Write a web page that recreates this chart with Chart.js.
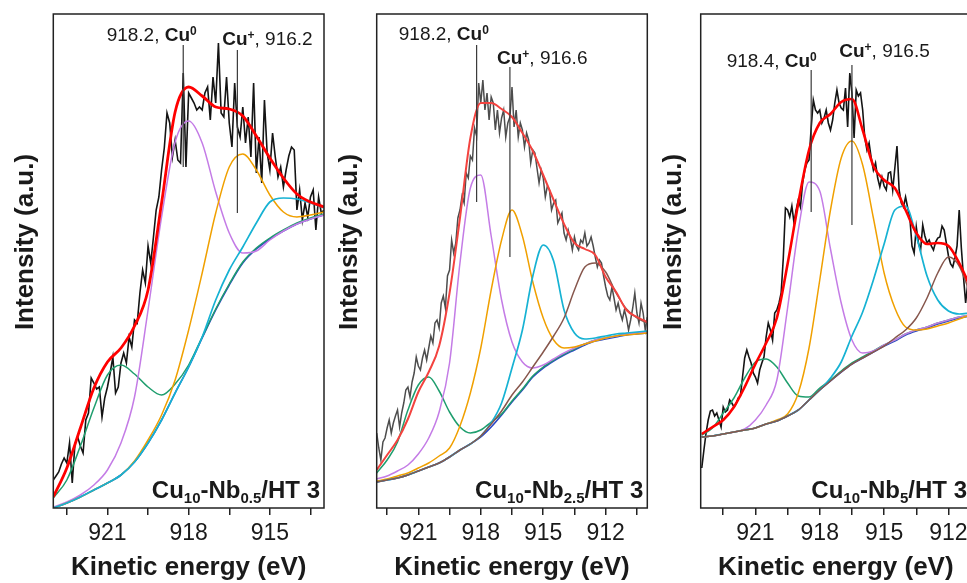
<!DOCTYPE html>
<html>
<head>
<meta charset="utf-8">
<script src="https://cdn.jsdelivr.net/npm/chart.js@4.4.1/dist/chart.umd.min.js"></script>
<style>
    html, body { margin: 0; padding: 0; background: #ffffff; overflow: hidden; }
    #wrap { position: relative; width: 967px; height: 583px; overflow: hidden; }
    #wrap canvas { position: absolute; top: 0; }
</style>
</head>
<body>
<div id="wrap">
    <canvas id="c1" width="335" height="583" style="left:0px"></canvas>
    <canvas id="c2" width="330" height="583" style="left:330px"></canvas>
    <canvas id="c3" width="320" height="583" style="left:660px"></canvas>
</div>
<script>
// shared x ticks (eV); only the multiples of 3 get a label
const tickValues = [910.5, 912, 913.5, 915, 916.5, 918, 919.5, 921, 922.5];
const tickLabels = [912, 915, 918, 921];
const rawStep = 0.1;

// ---- panel 1: Cu10-Nb0.5/HT 3 ----
const p1Energy = [923, 922.5, 922, 921.5, 921, 920.5, 920, 919.5, 919, 918.5, 918, 917.5, 917, 916.5, 916, 915.5, 915, 914.5, 914, 913.5, 913];
const p1Background = [0, 5, 11, 18, 25, 33, 46, 65, 88, 115, 141, 170, 198, 223, 245, 259, 269, 277, 284, 289, 293];
const p1Green = [10, 28, 62, 100, 133, 143, 134, 121, 113, 124, 143, 171, 199, 224, 246, 260, 270, 278, 285, 290, 294];
const p1Purple = [1, 6, 13, 23, 38, 65, 111, 198, 291, 366, 387, 365, 316, 275, 255, 257, 268, 277, 284, 289, 293];
const p1Orange = [0, 5, 11, 18, 25, 33, 47, 68, 93, 128, 178, 235, 295, 341, 354, 338, 313, 296, 291, 293, 296];
const p1Cyan = [0, 5, 11, 18, 25, 33, 46, 65, 88, 115, 141, 171, 208, 238, 261, 285, 306, 310, 309, 305, 300];
const p1Envelope = [11, 40, 80, 120, 146, 160, 182, 218, 305, 396, 421, 412, 401, 399, 392, 372, 350, 330, 314, 306, 301];
const p1RawStart = 923;
const p1Raw = [
    28, 32, 36, 44, 50, 45, 65, 25, 64, 71,
    62, 55, 88, 95, 130, 125, 119, 121, 91, 110,
    121, 135, 151, 115, 121, 145, 155, 145, 171, 161,
    188, 185, 215, 238, 225, 262, 245, 271, 298, 311,
    338, 360, 395, 385, 351, 368, 348, 345, 435, 341,
    415, 410, 405, 398, 401, 398, 415, 421, 388, 431,
    405, 465, 395, 391, 431, 385, 361, 425, 381, 371,
    401, 365, 391, 351, 425, 335, 371, 325, 408, 355,
    338, 375, 351, 331, 341, 321, 338, 352, 361, 358,
    298, 318, 288, 305, 291, 311, 318, 278, 311, 295,
    298,
];

// ---- panel 2: Cu10-Nb2.5/HT 3 ----
const p2Energy = [923, 922.5, 922, 921.5, 921, 920.5, 920, 919.5, 919, 918.5, 918, 917.5, 917, 916.5, 916, 915.5, 915, 914.5, 914, 913.5, 913, 912.5, 912, 911.5, 911, 910.5, 910];
const p2Background = [26, 28, 30, 33, 37, 41, 45, 51, 58, 64, 71, 81, 93, 106, 118, 131, 140, 147, 153, 158, 163, 167, 169, 171, 173, 174, 175];
const p2Green = [35, 48, 66, 98, 123, 131, 117, 96, 81, 75, 78, 86, 94, 107, 119, 132, 141, 148, 154, 159, 164, 168, 170, 172, 174, 175, 176];
const p2Purple = [29, 32, 37, 43, 54, 70, 96, 145, 245, 320, 333, 272, 208, 166, 146, 140, 143, 149, 155, 160, 164, 168, 170, 172, 174, 175, 176];
const p2Orange = [27, 29, 32, 35, 40, 45, 52, 60, 82, 115, 160, 218, 268, 298, 272, 226, 190, 168, 160, 161, 164, 167, 170, 172, 173, 174, 175];
const p2Cyan = [26, 28, 30, 33, 37, 41, 45, 51, 58, 64, 72, 85, 105, 140, 178, 232, 263, 247, 198, 175, 169, 170, 172, 174, 175, 176, 177];
const p2Brown = [26, 28, 30, 33, 37, 41, 45, 51, 58, 64, 72, 84, 97, 113, 126, 141, 156, 172, 190, 218, 241, 245, 236, 215, 199, 190, 185];
const p2Envelope = [38, 53, 68, 89, 116, 136, 162, 215, 290, 370, 405, 405, 399, 391, 375, 357, 333, 308, 284, 265, 259, 253, 231, 216, 198, 191, 186];
const p2RawStart = 923;
const p2Raw = [
    75, 60, 48, 66, 70, 80, 88, 75, 85, 92,
    98, 81, 95, 105, 118, 121, 111, 126, 135, 151,
    142, 138, 150, 158, 148, 160, 172, 165, 185, 188,
    180, 205, 212, 200, 232, 238, 268, 255, 265, 290,
    298, 312, 305, 335, 330, 352, 348, 380, 372, 425,
    405, 428, 398, 415, 388, 411, 405, 378, 398, 375,
    390, 398, 371, 385, 391, 421, 381, 398, 371, 385,
    378, 361, 375, 368, 345, 358, 355, 340, 325, 338,
    330, 311, 322, 318, 298, 305, 308, 285, 290, 295,
    275, 268, 278, 270, 258, 271, 262, 258, 268, 265,
    275, 262, 265, 271, 262, 251, 241, 248, 245, 232,
    221, 212, 208, 221, 210, 198, 205, 195, 188, 198,
    190, 178, 188, 200, 215, 195, 185, 205, 195, 178,
    191,
];

// ---- panel 3: Cu10-Nb5/HT 3 ----
const p3Energy = [923.5, 923, 922.5, 922, 921.5, 921, 920.5, 920, 919.5, 919, 918.5, 918, 917.5, 917, 916.5, 916, 915.5, 915, 914.5, 914, 913.5, 913, 912.5, 912, 911.5, 911];
const p3Background = [71, 72, 74, 76, 78, 80, 84, 87, 92, 98, 108, 118, 127, 136, 144, 150, 156, 162, 167, 173, 177, 180, 184, 187, 190, 192];
const p3Green = [73, 80, 95, 110, 130, 146, 149, 141, 125, 112, 111, 120, 128, 137, 145, 151, 157, 163, 168, 174, 178, 181, 185, 188, 191, 193];
const p3Purple = [71, 72, 74, 76, 79, 88, 103, 128, 200, 278, 326, 317, 259, 205, 168, 155, 157, 163, 168, 174, 178, 181, 185, 188, 191, 193];
const p3Orange = [71, 72, 74, 76, 78, 80, 84, 88, 94, 115, 160, 228, 298, 350, 367, 343, 290, 235, 200, 181, 178, 179, 182, 185, 189, 193];
const p3Cyan = [71, 72, 74, 76, 78, 80, 84, 87, 92, 98, 108, 118, 130, 146, 172, 196, 228, 264, 298, 302, 272, 232, 208, 197, 194, 195];
const p3Brown = [71, 72, 74, 76, 78, 80, 84, 87, 92, 98, 108, 118, 127, 136, 144, 150, 156, 162, 170, 178, 190, 210, 235, 251, 242, 215];
const p3Envelope = [74, 81, 88, 101, 121, 144, 165, 190, 244, 305, 358, 385, 394, 406, 409, 378, 342, 328, 320, 298, 275, 264, 265, 262, 245, 222];
const p3RawStart = 923.5;
const p3Raw = [
    40, 58, 75, 88, 97, 98, 92, 95, 88, 81,
    101, 96, 98, 108, 105, 101, 104, 110, 112, 131,
    150, 158, 151, 145, 135, 131, 125, 138, 145, 151,
    171, 185, 178, 168, 195, 198, 205, 215, 250, 300,
    298, 291, 302, 285, 298, 308, 301, 325, 338, 345,
    348, 380, 408, 398, 395, 398, 385, 390, 398, 385,
    378, 388, 405, 418, 405, 400, 398, 420, 381, 435,
    415, 370, 418, 412, 415, 398, 370, 358, 365, 350,
    338, 345, 330, 321, 331, 322, 318, 335, 336, 318,
    340, 362, 318, 305, 301, 311, 300, 290, 262, 255,
    281, 265, 258, 283, 272, 265, 268, 262, 258, 266,
    270, 271, 282, 278, 265, 252, 244, 241, 250, 262,
    298, 260, 231, 205, 225,
];

const FONT = '"Liberation Sans", Arial, Helvetica, sans-serif';
const INK = '#1a1a1a';

const colors = {
    raw: '#141414',
    rawGray: '#4d4d4d',
    background: '#2c46c4',
    green: '#1f9e6e',
    purple: '#c47ce6',
    orange: '#f0a000',
    cyan: '#16b2d3',
    brown: '#87574d',
    fit: '#ff0000',
    fitLight: '#f3433f',
    marker: '#3a3a3a',
};

function series(energy, values) {
    return values.map((v, i) => ({ x: energy[i], y: v }));
}

function rawSeries(start, values) {
    return values.map((v, i) => ({ x: Math.round((start - i * rawStep) * 100) / 100, y: v }));
}

function curve(data, color, width, order, smooth) {
    return {
        data,
        borderColor: color,
        borderWidth: width,
        pointRadius: 0,
        fill: false,
        order,
        tension: 0,
        cubicInterpolationMode: smooth ? 'monotone' : 'default',
    };
}

function markerLine(x, yRange) {
    return curve([{ x, y: yRange[0] }, { x, y: yRange[1] }], colors.marker, 1.2, 1, false);
}

// rich text pieces
const plain = (t) => ({ t, font: `19px ${FONT}` });
const strong = (t) => ({ t, font: `bold 19px ${FONT}` });
const sup = (t) => ({ t, font: `bold 12px ${FONT}`, dy: -6 });
const big = (t) => ({ t, font: `bold 24px ${FONT}` });
const sub = (t) => ({ t, font: `bold 15px ${FONT}`, dy: 5 });

function drawRich(ctx, parts, x, y, align) {
    let width = 0;
    parts.forEach((p) => {
        ctx.font = p.font;
        width += ctx.measureText(p.t).width;
    });
    let cx = align === 'right' ? x - width : x;
    parts.forEach((p) => {
        ctx.font = p.font;
        ctx.fillText(p.t, cx, y + (p.dy || 0));
        cx += ctx.measureText(p.t).width;
    });
}

function panelPlugin(panel) {
    return {
        id: 'panelDecor',
        afterDatasetsDraw(chart) {
            const { ctx, chartArea: a, scales } = chart;
            ctx.save();
            // frame
            ctx.strokeStyle = '#222';
            ctx.lineWidth = 1.5;
            ctx.strokeRect(a.left, a.top, a.right - a.left, a.bottom - a.top);

            ctx.fillStyle = INK;
            ctx.textBaseline = 'alphabetic';
            ctx.textAlign = 'left';
            panel.notes.forEach((n) => {
                drawRich(ctx, n.parts, scales.x.getPixelForValue(n.x), scales.y.getPixelForValue(n.y), 'left');
            });
            drawRich(ctx, panel.sample, a.right - 4, a.bottom - 10, 'right');

            // y title
            ctx.translate(a.left - 20, a.top + 228);
            ctx.rotate(-Math.PI / 2);
            ctx.textAlign = 'center';
            ctx.font = `bold 26px ${FONT}`;
            ctx.fillText('Intensity (a.u.)', 0, 0);
            ctx.restore();
        },
    };
}

function buildPanel(panel) {
    new Chart(document.getElementById(panel.canvas), {
        type: 'line',
        data: { datasets: panel.datasets },
        options: {
            responsive: false,
            animation: false,
            devicePixelRatio: 1,
            events: [],
            layout: { padding: { top: 14, right: panel.padRight, left: 0, bottom: 0 } },
            scales: {
                x: {
                    type: 'linear',
                    min: panel.xMin,
                    max: panel.xMax,
                    reverse: true,
                    afterFit: (s) => { s.height = 75; },
                    afterBuildTicks: (s) => {
                        s.ticks = tickValues.filter((v) => v >= panel.xMin && v <= panel.xMax).map((v) => ({ value: v }));
                    },
                    ticks: {
                        autoSkip: false,
                        maxRotation: 0,
                        padding: 5,
                        color: INK,
                        font: { family: FONT, size: 23 },
                        callback: (v) => (tickLabels.includes(v) ? String(v) : ''),
                    },
                    grid: { drawOnChartArea: false, tickLength: 7, color: '#222', lineWidth: 1.5 },
                    border: { display: false },
                    title: {
                        display: true,
                        text: 'Kinetic energy (eV)',
                        color: INK,
                        font: { family: FONT, size: 26, weight: 'bold' },
                        padding: { top: 0, bottom: 0 },
                    },
                },
                y: {
                    min: 0,
                    max: 494,
                    afterFit: (s) => { s.width = panel.axisWidth; },
                    ticks: { display: false },
                    grid: { display: false },
                    border: { display: false },
                },
            },
            plugins: { legend: { display: false }, tooltip: { enabled: false } },
        },
        plugins: [panelPlugin(panel)],
    });
}

buildPanel({
    canvas: 'c1',
    xMin: 913,
    xMax: 923,
    axisWidth: 53.3,
    padRight: 11,
    datasets: [
        curve(rawSeries(p1RawStart, p1Raw), colors.raw, 1.6, 10, false),
        curve(series(p1Energy, p1Background), colors.background, 1.6, 9, true),
        curve(series(p1Energy, p1Green), colors.green, 1.5, 8, true),
        curve(series(p1Energy, p1Purple), colors.purple, 1.5, 7, true),
        curve(series(p1Energy, p1Orange), colors.orange, 1.5, 6, true),
        curve(series(p1Energy, p1Cyan), colors.cyan, 1.7, 5, true),
        curve(series(p1Energy, p1Envelope), colors.fit, 2.8, 2, true),
        markerLine(918.2, [341, 463]),
        markerLine(916.2, [295, 458]),
    ],
    notes: [
        { x: 921.03, y: 467, parts: [plain('918.2, '), strong('Cu'), sup('0')] },
        { x: 916.76, y: 463, parts: [strong('Cu'), sup('+'), plain(', 916.2')] },
    ],
    sample: [big('Cu'), sub('10'), big('-Nb'), sub('0.5'), big('/HT 3')],
});

buildPanel({
    canvas: 'c2',
    xMin: 910,
    xMax: 923,
    axisWidth: 46.7,
    padRight: 12.7,
    datasets: [
        curve(rawSeries(p2RawStart, p2Raw), colors.rawGray, 1.5, 10, false),
        curve(series(p2Energy, p2Background), colors.background, 1.6, 9, true),
        curve(series(p2Energy, p2Green), colors.green, 1.5, 8, true),
        curve(series(p2Energy, p2Purple), colors.purple, 1.5, 7, true),
        curve(series(p2Energy, p2Orange), colors.orange, 1.5, 6, true),
        curve(series(p2Energy, p2Cyan), colors.cyan, 1.7, 5, true),
        curve(series(p2Energy, p2Brown), colors.brown, 1.5, 4, true),
        curve(series(p2Energy, p2Envelope), colors.fitLight, 2, 2, true),
        markerLine(918.2, [306, 463]),
        markerLine(916.6, [251, 441]),
    ],
    notes: [
        { x: 921.94, y: 468, parts: [plain('918.2, '), strong('Cu'), sup('0')] },
        { x: 917.22, y: 444, parts: [strong('Cu'), sup('+'), plain(', 916.6')] },
    ],
    sample: [big('Cu'), sub('10'), big('-Nb'), sub('2.5'), big('/HT 3')],
});

buildPanel({
    canvas: 'c3',
    xMin: 910.95,
    xMax: 923.55,
    axisWidth: 40.7,
    padRight: 9,
    datasets: [
        curve(rawSeries(p3RawStart, p3Raw), colors.raw, 1.6, 10, false),
        curve(series(p3Energy, p3Background), colors.background, 1.6, 9, true),
        curve(series(p3Energy, p3Green), colors.green, 1.5, 8, true),
        curve(series(p3Energy, p3Purple), colors.purple, 1.5, 7, true),
        curve(series(p3Energy, p3Orange), colors.orange, 1.5, 6, true),
        curve(series(p3Energy, p3Cyan), colors.cyan, 1.7, 5, true),
        curve(series(p3Energy, p3Brown), colors.brown, 1.5, 4, true),
        curve(series(p3Energy, p3Envelope), colors.fit, 2.6, 2, true),
        markerLine(918.4, [296, 438]),
        markerLine(916.5, [283, 443]),
    ],
    notes: [
        { x: 922.34, y: 441, parts: [plain('918.4, '), strong('Cu'), sup('0')] },
        { x: 917.09, y: 451, parts: [strong('Cu'), sup('+'), plain(', 916.5')] },
    ],
    sample: [big('Cu'), sub('10'), big('-Nb'), sub('5'), big('/HT 3')],
});
</script>
</body>
</html>
